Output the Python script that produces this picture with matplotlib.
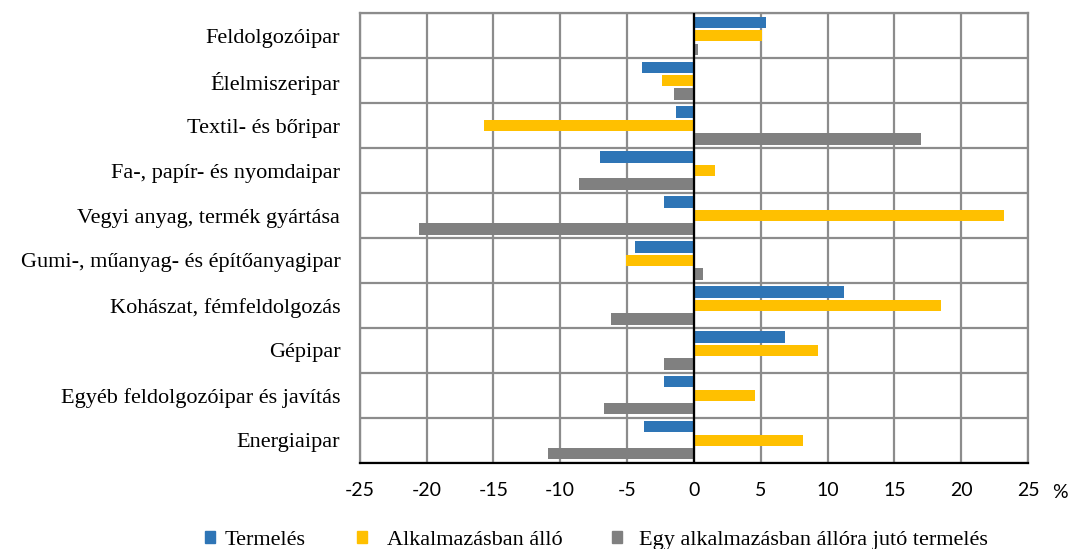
import numpy as np
import matplotlib.pyplot as plt
from matplotlib.patches import Patch

plt.rcParams['font.family'] = ['Liberation Serif', 'DejaVu Serif']

categories = ['Feldolgozóipar', 'Élelmiszeripar', 'Textil- és bőripar',
              'Fa-, papír- és nyomdaipar', 'Vegyi anyag, termék gyártása',
              'Gumi-, műanyag- és építőanyagipar', 'Kohászat, fémfeldolgozás',
              'Gépipar', 'Egyéb feldolgozóipar és javítás', 'Energiaipar']
termeles = [5.4, -3.9, -1.3, -7.0, -2.2, -4.4, 11.2, 6.8, -2.2, -3.7]
alkalmazott = [5.1, -2.4, -15.7, 1.6, 23.2, -5.1, 18.5, 9.3, 4.6, 8.2]
egy_fore = [0.3, -1.5, 17.0, -8.6, -20.6, 0.7, -6.2, -2.2, -6.7, -10.9]
xticks = [-25, -20, -15, -10, -5, 0, 5, 10, 15, 20, 25]

series = [('Termelés', termeles, '#2E75B6'),
          ('Alkalmazásban álló', alkalmazott, '#FFC000'),
          ('Egy alkalmazásban állóra jutó termelés', egy_fore, '#808080')]

fig = plt.figure(figsize=(10.77, 5.49), dpi=100)
ax = fig.add_axes([0.334, 0.157, 0.6205, 0.819])

n = len(categories)
y = np.arange(n)
offsets = [-0.3, 0.0, 0.3]
for (name, vals, col), off in zip(series, offsets):
    ax.barh(y + off, vals, height=0.25, color=col, label=name, zorder=3)

ax.set_xlim(-25, 25)
ax.set_ylim(n - 0.5, -0.5)
ax.set_xticks(xticks)
ax.set_xticklabels([str(t) for t in xticks], fontsize=14,
                   family=['Lato', 'DejaVu Sans'])
ax.set_yticks(y)
ax.set_yticklabels(categories, fontsize=16)
ax.tick_params(length=0)
ax.tick_params(axis='x', pad=14)
ax.tick_params(axis='y', pad=14)

grid_col = '#8c8c8c'
for t in xticks:
    ax.axvline(t, color=grid_col, lw=1.6, zorder=1)
for b in np.arange(n + 1) - 0.5:
    ax.axhline(b, color=grid_col, lw=1.6, zorder=1)
ax.axvline(0, color='black', lw=1.6, zorder=4)

for s in ['top', 'left', 'right']:
    ax.spines[s].set_color(grid_col)
    ax.spines[s].set_linewidth(1.6)
ax.spines['bottom'].set_color('black')
ax.spines['bottom'].set_linewidth(1.6)
ax.spines['bottom'].set_zorder(5)

fig.text(0.984, 0.103, '%', fontsize=14, ha='center', va='center',
         family=['Lato', 'DejaVu Sans'])

# legend entries placed like the original (uneven spacing)
leg_x = [0.1903, 0.3315, 0.5682]
leg_pad = [0.45, 0.9, 0.77]
for (name, vals, col), lx, tp in zip(series, leg_x, leg_pad):
    fig.legend(handles=[Patch(color=col, label=name)], loc='center left',
               bbox_to_anchor=(lx, 0.016), frameon=False, fontsize=16,
               handlelength=0.45, handleheight=0.45, handletextpad=tp,
               borderpad=0, borderaxespad=0)

fig.savefig('out.png', dpi=100)
